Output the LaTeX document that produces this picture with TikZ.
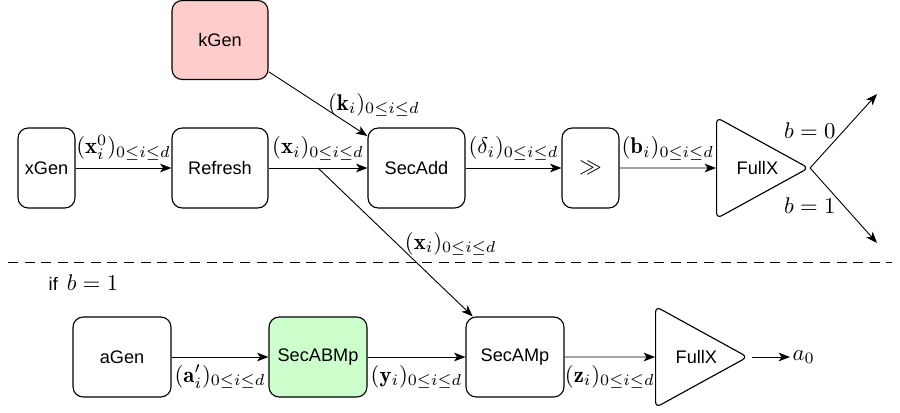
\documentclass[tikz,border=0pt]{standalone}
\usepackage{fontspec}
\setsansfont{Liberation Sans}
\usetikzlibrary{arrows.meta,shapes.geometric}
\definecolor{pinkfill}{RGB}{255,204,204}
\definecolor{greenfill}{RGB}{204,255,204}
\begin{document}
\begin{tikzpicture}[x=0.4405pt,y=-0.4405pt,
  box/.style={draw, rounded corners=4.5pt, minimum height=35.24pt, inner sep=1pt, font=\sffamily\footnotesize, line width=0.5pt},
  tri/.style={draw, isosceles triangle, isosceles triangle stretches, minimum height=40.5pt, minimum width=44.5pt, inner sep=0pt, rounded corners=2.5pt, font=\sffamily\footnotesize, line width=0.5pt},
  conn/.style={-{Stealth[length=5pt,width=3.8pt,inset=1.3pt]}, line width=0.4pt},
  lbl/.style={font=\normalsize}
]
\useasboundingbox (0,0) rectangle (900,412);
% upper row
\node[box, minimum width=42.29pt, minimum height=34.8pt, fill=pinkfill] (kgen) at (220,40) {kGen};
\node[box, minimum width=25.11pt] (xgen) at (46.5,168) {xGen};
\node[box, minimum width=42.29pt] (refresh) at (220,168) {Refresh};
\node[box, minimum width=42.73pt] (secadd) at (416.5,168) {SecAdd};
\node[box, minimum width=25.11pt, font=\normalsize] (shift) at (590.5,168) {$\gg$};
\node[tri, anchor=apex] (full1) at (810,168) {\hspace*{5pt}FullX};
\coordinate (b0) at (877,94);
\coordinate (b1) at (877,243);
% lower row
\node[font=\sffamily] (cond) at (83.5,283) {{\footnotesize if}\hspace{4pt}$b=1$};
\node[box, minimum width=43.17pt] (agen) at (122,357) {aGen};
\node[box, minimum width=43.17pt, fill=greenfill] (secabmp) at (318,357) {SecABMp};
\node[box, minimum width=43.17pt] (secamp) at (515,357) {SecAMp};
\node[tri, anchor=apex] (full2) at (749,357) {\hspace*{5pt}FullX};
\node[inner sep=1pt, anchor=west] (a0) at (790,357) {$a_0$};
% connectors upper
\draw[conn] (xgen) -- node[above, lbl] {$(\mathbf{x}_i^0)_{0\le i\le d}$} (refresh);
\draw[conn] (refresh) -- coordinate[midway] (m) node[above, lbl] {$(\mathbf{x}_i)_{0\le i\le d}$} (secadd);
\draw[conn] (kgen) -- node[pos=0.52, anchor=west, lbl] {$(\mathbf{k}_i)_{0\le i\le d}$} (secadd);
\draw[conn] (m) -- node[pos=0.51, anchor=west, lbl] {$(\mathbf{x}_i)_{0\le i\le d}$} (secamp);
\draw[conn] (secadd) -- node[above, lbl] {$(\delta_i)_{0\le i\le d}$} (shift);
\draw[conn] (shift) -- node[above, lbl] {$(\mathbf{b}_i)_{0\le i\le d}$} (full1);
\draw[conn] (full1.apex) -- node[left, lbl] {$b=0$} (b0);
\draw[conn] (full1.apex) -- node[left, lbl] {$b=1$} (b1);
% dashed separator
\draw[dash pattern=on 4.4pt off 2.9pt, line width=0.4pt] (8,262) -- (892,262);
% connectors lower
\draw[conn] (agen) -- node[below, lbl] {$(\mathbf{a}'_i)_{0\le i\le d}$} (secabmp);
\draw[conn] (secabmp) -- node[below, lbl] {$(\mathbf{y}_i)_{0\le i\le d}$} (secamp);
\draw[conn] (secamp) -- node[below, lbl] {$(\mathbf{z}_i)_{0\le i\le d}$} (full2);
\draw[conn, shorten <=1.5pt] (full2.apex) -- (a0);
\end{tikzpicture}
\end{document}
